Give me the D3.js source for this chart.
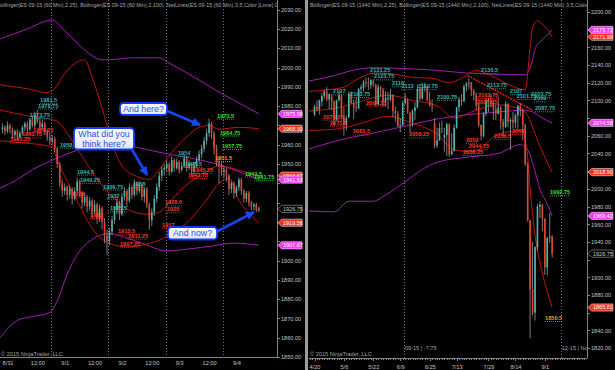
<!DOCTYPE html>
<meta charset="utf-8">
<style>
  body { margin: 0; background: #000; }
  svg { display: block; }
  text { font-family: "Liberation Sans", Arial, sans-serif; }
  .axis path, .axis line { stroke: #858585; shape-rendering: crispEdges; }
  .axis text { fill: #c4c4c4; font-size: 5.6px; }
</style>
<svg width="615" height="370"></svg>
<script src="https://d3js.org/d3.v7.min.js"></script>
<script>
  // ---- 60 min panel (ES 09-15), bar 0 = first bar of the 9/1 session
  var hourlyFirst = -20;
  var hourlyBars = [ // open, high, low, close
    [1968, 1971, 1966, 1969], [1969, 1970, 1965, 1967], [1967, 1972, 1966, 1970], [1970, 1971, 1966, 1968],
    [1968, 1969, 1963, 1965], [1965, 1968, 1964, 1967], [1967, 1968, 1962, 1964], [1964, 1967, 1963, 1966],
    [1966, 1970, 1965, 1969], [1969, 1972, 1967, 1971], [1971, 1972, 1966, 1968], [1968, 1974, 1967, 1973],
    [1973, 1975, 1969, 1970], [1970, 1977, 1968, 1975], [1975, 1978, 1971, 1972], [1972, 1974, 1967, 1969],
    [1969, 1973, 1968, 1971], [1971, 1972, 1965, 1967], [1967, 1968, 1962, 1964], [1964, 1966, 1960, 1962],
    [1962, 1965, 1960, 1963], [1963, 1964, 1956, 1958], [1958, 1959, 1948, 1950], [1950, 1951, 1938, 1940],
    [1940, 1942, 1933, 1936], [1936, 1940, 1934, 1938], [1938, 1939, 1931, 1934], [1934, 1939, 1932, 1937],
    [1937, 1938, 1929, 1932], [1932, 1938, 1931, 1936], [1936, 1943, 1935, 1941], [1941, 1942, 1933, 1935],
    [1935, 1936, 1927, 1930], [1930, 1935, 1928, 1933], [1933, 1934, 1925, 1928], [1928, 1933, 1926, 1931],
    [1931, 1932, 1922, 1925], [1925, 1931, 1924, 1929], [1929, 1930, 1919, 1922], [1922, 1929, 1920, 1927],
    [1927, 1928, 1916, 1920], [1920, 1922, 1909, 1913], [1913, 1916, 1903, 1910],
    [1910, 1917, 1908, 1915], [1915, 1923, 1913, 1921], [1921, 1928, 1919, 1926], [1926, 1932, 1924, 1930],
    [1930, 1931, 1921, 1924], [1924, 1935, 1923, 1933], [1933, 1938, 1931, 1936], [1936, 1937, 1928, 1931],
    [1931, 1940, 1930, 1938], [1938, 1939, 1932, 1934], [1934, 1942, 1933, 1940], [1940, 1941, 1934, 1936],
    [1936, 1941, 1935, 1939], [1939, 1940, 1931, 1933], [1933, 1938, 1930, 1937], [1937, 1938, 1927, 1929],
    [1929, 1930, 1916, 1921], [1921, 1927, 1918, 1925], [1925, 1934, 1923, 1932], [1932, 1940, 1930, 1938],
    [1938, 1946, 1936, 1944], [1944, 1949, 1941, 1947], [1947, 1950, 1944, 1948],
    [1948, 1952, 1946, 1950], [1950, 1951, 1944, 1946], [1946, 1954, 1945, 1952], [1952, 1953, 1946, 1948],
    [1948, 1953, 1947, 1951], [1951, 1952, 1945, 1947], [1947, 1951, 1946, 1949], [1949, 1955, 1948, 1953],
    [1953, 1954, 1946, 1948], [1948, 1952, 1947, 1950], [1950, 1951, 1944, 1946], [1946, 1951, 1945, 1949],
    [1949, 1954, 1948, 1952], [1952, 1957, 1951, 1955], [1955, 1960, 1953, 1958], [1958, 1964, 1956, 1962],
    [1962, 1968, 1960, 1966], [1966, 1973.5, 1964, 1971], [1971, 1972, 1963, 1966], [1966, 1967, 1955, 1958],
    [1958, 1960, 1949, 1951], [1951, 1954, 1940, 1949], [1949, 1951, 1944, 1946],
    [1946, 1949, 1943, 1947], [1947, 1948, 1941, 1944], [1944, 1945, 1934, 1937], [1937, 1941, 1935, 1940],
    [1940, 1941, 1932, 1935], [1935, 1939, 1933, 1938], [1938, 1943, 1936, 1942], [1942, 1943, 1934, 1936],
    [1936, 1937, 1930, 1932], [1932, 1936, 1930, 1935], [1935, 1936, 1928, 1930], [1930, 1931, 1926, 1928],
    [1928, 1930, 1926, 1929], [1929, 1930, 1925, 1926], [1926, 1928, 1925, 1926.75]
  ];
  var hourlyTicks = [[-18, "8/31"], [-6, "12:00"], [5, "9/1"], [17, "12:00"], [28, "9/2"],
    [40, "12:00"], [51, "9/3"], [63, "12:00"], [74, "9/4"]];
  var hourlySessionBreaks = [-0.5, 22.5, 45.5, 68.5];

  var hourlyBB25Upper = [[-21, 1991], [-10, 1989], [-2, 1987], [1, 1989], [4, 1995], [8, 2001], [13, 2004],
    [16, 1995], [20, 1979], [24, 1961], [28, 1949], [34, 1943.5], [39, 1942], [43, 1947], [48, 1956],
    [54, 1964], [59, 1969], [63, 1970], [67, 1968], [75, 1969], [83, 1968.3]];
  var hourlyBB25Mid = [[-21, 1978], [-10, 1975], [0, 1973], [3, 1971], [6, 1966], [10, 1958], [15, 1948],
    [20, 1939], [25, 1932], [31, 1926], [38, 1924], [43, 1925], [47, 1930], [52, 1937], [57, 1942],
    [62, 1946], [67, 1949], [72, 1948], [77, 1946], [83, 1944]];
  var hourlyBB25Lower = [[-21, 1962], [-12, 1961], [0, 1958.8], [2, 1952], [6, 1941], [10, 1931], [14, 1921],
    [19, 1912], [23, 1909], [30, 1907], [36, 1908], [43, 1910.5], [48, 1914], [54, 1919.4], [58, 1925],
    [62, 1931.3], [67, 1940], [71, 1942.7], [75, 1931.3], [79, 1924.6], [83, 1919.6]];
  var hourlyBB100Upper = [[-21, 2014.8], [-10, 2020], [0, 2024.6], [5, 2019], [10, 2012.7], [15, 2007],
    [20, 2004], [26, 2004.3], [31, 2005], [38, 2005], [43, 2005], [47, 2002.3], [53, 1998], [59, 1993.5],
    [66, 1988], [73, 1983], [78, 1979.5], [83, 1976]];
  var hourlyBB100Mid = [[-21, 1937.5], [-14, 1942], [-8, 1947], [0, 1952], [10, 1957], [20, 1959.5],
    [29, 1959.5], [38, 1957.5], [47, 1955], [56, 1953], [66, 1950], [75, 1946], [83, 1941.9]];
  var hourlyBB100Lower = [[-21, 1860], [-14, 1869], [-8, 1871], [-1, 1873], [2, 1879], [6, 1893],
    [10, 1903], [15, 1910], [23, 1914], [29, 1912], [36, 1909], [46, 1905], [55, 1906], [64, 1907.5],
    [73, 1909], [83, 1907.9]];

  // NetLines levels: value, bar where the text starts, kind
  var hourlyNetLabels = [
    [1981.5, -4.9, "res"], [1978.75, -5.7, "res"], [1973.75, -9, "res"], [1958.5, 3.1, "res"],
    [1944.5, 9.9, "res"], [1940.25, 11.1, "res"], [1936.75, 20.4, "res"], [1932, 22, "res"],
    [1925.5, 23.2, "res"], [1938, 32.4, "res"], [1954, 50.5, "res"], [1948.5, 53.3, "res"],
    [1963.75, -12.2, "sup"], [1966.25, -7.7, "sup"], [1961.25, -17, "sup"], [1933, 7.9, "sup"],
    [1922, 15.2, "sup"], [1913.5, 26.4, "sup"], [1911.25, 30.5, "sup"], [1907.25, 27.2, "sup"],
    [1945.25, 56.5, "sup"], [1942.75, 54.5, "sup"], [1928.5, 45.3, "sup"], [1925, 46.1, "sup"],
    [1917, 44.1, "sup"],
    [1973.5, 66.2, "tgt"], [1964.75, 67.4, "tgt"], [1957.75, 68.2, "tgt"], [1943.5, 77.4, "tgt"],
    [1941.75, 81.1, "tgt"], [1951.5, 65.4, "mid"]
  ];
  var hourlyTags = [[1975.99, "bb100"], [1968.30, "bb25"], [1943.97, "bb25"], [1941.93, "bb100"],
    [1926.75, "last"], [1919.56, "bb25"], [1907.87, "bb100"]];

  // ---- daily panel (ES 09-15), bar 0 = 4/20
  var dailyBars = [
    [2084, 2095, 2082, 2093], [2093, 2100, 2088, 2090], [2090, 2101, 2084, 2100], [2099, 2108, 2093, 2105],
    [2105, 2112, 2102, 2110], [2110, 2115, 2099, 2101], [2101, 2108, 2090, 2107], [2106, 2107, 2089, 2099],
    [2099, 2100, 2071, 2078], [2078, 2101, 2077, 2100], [2100, 2110, 2099, 2106], [2106, 2107, 2080, 2082],
    [2082, 2092, 2060, 2073], [2072, 2083, 2066, 2080], [2081, 2110, 2080, 2108], [2108, 2110, 2096, 2097],
    [2097, 2101, 2079, 2092], [2092, 2104, 2087, 2091], [2091, 2114, 2090, 2113], [2113, 2118, 2108, 2115],
    [2114, 2123, 2110, 2121], [2121, 2126, 2115, 2120], [2120, 2126, 2112, 2118], [2117, 2124, 2113, 2123],
    [2122, 2124, 2115, 2118], [2118, 2119, 2093, 2096], [2096, 2118, 2094, 2115], [2115, 2116, 2104, 2112],
    [2112, 2114, 2093, 2099], [2099, 2110, 2093, 2103], [2103, 2110, 2090, 2101], [2101, 2113, 2099, 2106],
    [2106, 2107, 2081, 2088], [2088, 2093, 2076, 2085], [2085, 2088, 2070, 2071], [2071, 2080, 2064, 2072],
    [2072, 2100, 2071, 2097], [2097, 2108, 2095, 2101], [2101, 2102, 2085, 2086], [2086, 2087, 2064, 2076],
    [2076, 2090, 2070, 2088], [2088, 2098, 2078, 2092], [2092, 2118, 2091, 2113], [2113, 2115, 2100, 2102],
    [2102, 2120, 2101, 2115], [2115, 2120, 2110, 2116], [2116, 2117, 2099, 2100], [2100, 2110, 2093, 2094],
    [2094, 2101, 2087, 2093], [2075, 2080, 2046, 2049], [2049, 2069, 2046, 2055], [2055, 2075, 2054, 2069],
    [2069, 2077, 2063, 2068], [2058, 2069, 2042, 2061], [2061, 2075, 2037, 2073], [2073, 2074, 2036, 2039],
    [2039, 2063, 2038, 2043], [2043, 2073, 2042, 2069], [2069, 2093, 2068, 2092], [2092, 2104, 2087, 2101],
    [2101, 2107, 2094, 2099], [2099, 2118, 2098, 2116], [2116, 2121, 2110, 2119], [2119, 2125, 2113, 2120],
    [2120, 2121, 2105, 2111], [2111, 2113, 2100, 2106], [2106, 2109, 2089, 2094], [2094, 2098, 2070, 2072],
    [2072, 2073, 2055, 2060], [2060, 2087, 2058, 2085], [2085, 2103, 2082, 2100], [2100, 2103, 2087, 2100],
    [2100, 2107, 2092, 2096], [2096, 2098, 2078, 2090], [2090, 2094, 2078, 2085], [2085, 2104, 2084, 2092],
    [2092, 2094, 2067, 2076], [2076, 2079, 2059, 2070], [2070, 2099, 2069, 2096], [2096, 2097, 2070, 2076],
    [2076, 2080, 2044, 2078], [2078, 2087, 2068, 2075], [2075, 2085, 2069, 2083], [2083, 2095, 2068, 2094],
    [2094, 2097, 2082, 2089], [2089, 2091, 2055, 2072], [2072, 2074, 2026, 2028], [2028, 2030, 1963, 1964],
    [1964, 1965, 1831, 1886], [1886, 1940, 1857, 1860], [1860, 1935, 1851, 1934], [1934, 1983, 1930, 1980],
    [1980, 1986, 1967, 1982], [1982, 1983, 1952, 1966], [1966, 1967, 1903, 1911], [1911, 1945, 1902, 1945],
    [1945, 1973, 1939, 1946], [1946, 1948, 1922, 1926.75]
  ];
  var dailyTicks = [[0, "4/20"], [12, "5/6"], [24, "5/22"], [35, "6/9"], [47, "6/25"], [58, "7/13"],
    [71, "7/29"], [82, "8/14"], [94, "9/1"]];
  var dailyRollovers = [[36.5, "09-15 | -7.75"], [100.5, "12-15 | No"]];

  var dailyBB25Upper = [[-2.3, 2110], [5, 2112], [12, 2115], [18, 2125], [25, 2131], [32, 2130], [40, 2126],
    [48, 2125], [55, 2120], [60, 2125], [66, 2134], [72, 2128], [80, 2117], [86, 2112], [87, 2130],
    [88, 2160], [89, 2182], [91, 2190], [93, 2186], [95, 2181], [97, 2172]];
  var dailyBB25Mid = [[-2.3, 2088], [10, 2092], [20, 2100], [30, 2106], [40, 2100], [50, 2094], [57, 2080],
    [65, 2088], [75, 2095], [85, 2089], [87, 2083], [89, 2070], [91, 2055], [94, 2036], [97, 2018.9]];
  var dailyBB25Lower = [[-2.3, 2066], [10, 2068], [20, 2075], [30, 2082], [40, 2074], [50, 2062], [57, 2044],
    [65, 2042], [75, 2062], [85, 2066], [86, 2056], [87, 2036], [88, 2000], [90, 1948], [93, 1905],
    [97, 1865.8]];
  var dailyBB100Upper = [[-2.3, 2122], [8, 2128], [14, 2133], [24, 2137], [37, 2136], [50, 2134], [62, 2131],
    [72, 2130], [86, 2129], [88, 2137], [89, 2146], [90, 2158], [92, 2166], [95, 2174], [97, 2179.7]];
  var dailyBB100Mid = [[-2.3, 2045], [10, 2055], [24, 2063], [37, 2071], [50, 2079], [63, 2084], [75, 2087],
    [86, 2089], [89, 2087], [93, 2080], [97, 2074.6]];
  var dailyBB100Lower = [[-2.3, 1975], [8, 1974], [14, 1986], [24, 1986], [29, 1993], [37, 2008], [44, 2022],
    [50, 2030], [63, 2036], [75, 2040], [84, 2050], [86, 2048], [88, 2038], [90, 2020], [92, 2000],
    [95, 1983], [97, 1969.4]];
  var dailyTrend = [[62.6, 2128], [89, 2089]];

  var dailyNetLabels = [
    [2131.25, 22.7, "res"], [2123.75, 24.3, "res"], [2107, 7.6, "res"], [2103.75, 14.5, "res"],
    [2116, 31.6, "res"], [2113, 35.5, "res"], [2112.75, 42.2, "res"], [2100.75, 50, "res"],
    [2130.5, 68, "res"], [2113.75, 70.4, "res"], [2107, 79.8, "res"], [2101.75, 82.5, "res"],
    [2103.75, 88.4, "res"], [2099, 89.6, "res"], [2087.75, 90, "res"],
    [2078.25, 3.5, "sup"], [2071.5, 6.3, "sup"], [2094.25, 21, "sup"], [2061.5, 15.7, "sup"],
    [2058.25, 38.6, "sup"], [2052, 61.8, "sup"], [2044.75, 63, "sup"], [2038.25, 60.6, "sup"],
    [2056.5, 73.3, "sup"], [2062, 80.6, "sup"], [2102.75, 66.7, "sup"], [2095.25, 66.3, "sup"],
    [1992.75, 96.1, "tgt"], [1850.5, 94.1, "mid"]
  ];
  var dailyTags = [[2179.73, "bb100"], [2171.99, "bb25"], [2074.58, "bb100"], [2018.90, "bb25"],
    [1969.42, "bb100"], [1926.75, "last"], [1865.81, "bb25"]];

  var calloutText = [["And here?"], ["What did you", "think here?"], ["And now?"]];
  var calloutTips = [[59.4, 1970.2], [38.1, 1944.3], [81.1, 1925.1]];

  // ---------------------------------------------------------------
  var svg = d3.select("svg");
  var upColor = "#4fb5ac", downColor = "#e2452c", wickColor = "#b0b0b0";
  var netColor = { res: "#38b4ad", sup: "#ff3a28", tgt: "#2ee02e", mid: "#f29a2a" };
  var tagColor = { bb100: "#f23cf2", bb25: "#f5321e", last: "#000" };
  var fmt = d3.format(".2f");

  svg.append("rect").attr("width", 615).attr("height", 370).attr("fill", "#000");
  var defs = svg.append("defs");

  function drawPanel(p) {
    var x = d3.scaleLinear().domain(p.xDomain).range([p.left, p.right]);
    var y = d3.scaleLinear().domain(p.yDomain).range(p.yRange);
    var g = svg.append("g");

    defs.append("clipPath").attr("id", "clip" + p.name).append("rect")
      .attr("x", p.left).attr("y", 0).attr("width", p.right - p.left).attr("height", p.bottom);
    var plot = g.append("g").attr("clip-path", "url(#clip" + p.name + ")");

    // session / rollover lines
    plot.selectAll("line.brk").data(p.breaks).enter().append("line")
      .attr("x1", function(d) { return Math.round(x(d)) + 0.5; })
      .attr("x2", function(d) { return Math.round(x(d)) + 0.5; })
      .attr("y1", 0).attr("y2", p.bottom)
      .attr("stroke", "#6f7884").attr("stroke-dasharray", "1,2");

    // bands
    var line = d3.line().curve(d3.curveMonotoneX)
      .x(function(d) { return x(d[0]); }).y(function(d) { return y(d[1]); });
    p.bb100.forEach(function(s) {
      plot.append("path").attr("d", line(s)).attr("fill", "none").attr("stroke", "#a01fb0").attr("stroke-width", 1);
    });
    p.bb25.forEach(function(s) {
      plot.append("path").attr("d", line(s)).attr("fill", "none").attr("stroke", "#c0150f").attr("stroke-width", 1);
    });
    if (p.trend) {
      plot.append("path").attr("d", d3.line().x(function(d) { return x(d[0]); }).y(function(d) { return y(d[1]); })(p.trend))
        .attr("stroke", "#ff2a1a").attr("stroke-width", 1.2).attr("stroke-dasharray", "2,1").attr("fill", "none");
    }

    // candles
    var bars = p.bars.map(function(b, k) { return { i: p.first + k, o: b[0], h: b[1], l: b[2], c: b[3] }; });
    var cg = plot.selectAll("g.bar").data(bars).enter().append("g");
    cg.append("line")
      .attr("x1", function(d) { return x(d.i); }).attr("x2", function(d) { return x(d.i); })
      .attr("y1", function(d) { return y(d.h); }).attr("y2", function(d) { return y(d.l); })
      .attr("stroke", wickColor).attr("stroke-width", 0.7);
    cg.append("rect")
      .attr("x", function(d) { return x(d.i) - 0.8; }).attr("width", 1.6)
      .attr("y", function(d) { return y(Math.max(d.o, d.c)); })
      .attr("height", function(d) { return Math.max(0.7, Math.abs(y(d.o) - y(d.c))); })
      .attr("fill", function(d) { return d.c >= d.o ? upColor : downColor; });

    // NetLines labels with dotted underline
    var lg = plot.selectAll("g.net").data(p.labels).enter().append("g");
    lg.append("text")
      .attr("x", function(d) { return x(d[1]); }).attr("y", function(d) { return y(d[0]) - 1; })
      .attr("fill", function(d) { return netColor[d[2]]; })
      .attr("font-size", 5.6).attr("font-weight", "bold")
      .text(function(d) { return String(d[0]); });
    lg.append("line")
      .attr("x1", function(d) { return x(d[1]); })
      .attr("x2", function(d) { return x(d[1]) + this.parentNode.firstChild.getComputedTextLength(); })
      .attr("y1", function(d) { return y(d[0]) + 0.5; }).attr("y2", function(d) { return y(d[0]) + 0.5; })
      .attr("stroke", function(d) { return netColor[d[2]]; }).attr("stroke-width", 0.8)
      .attr("stroke-dasharray", "1,1");

    // title + copyright
    plot.append("text").attr("x", p.titleX).attr("y", 6.5).attr("fill", "#a8a8a8")
      .attr("font-size", 5.4).text(p.title);
    plot.append("text").attr("x", p.left + 1).attr("y", 356).attr("fill", "#a0a0a0")
      .attr("font-size", 5.6).text("\u00a9 2015 NinjaTrader, LLC");
    if (p.rollovers) {
      plot.selectAll("text.roll").data(p.rollovers).enter().append("text")
        .attr("x", function(d) { return x(d[0]) + 1; }).attr("y", 350)
        .attr("fill", "#a8a8a8").attr("font-size", 5.6).text(function(d) { return d[1]; });
    }

    // axes
    var ya = g.append("g").attr("class", "axis").attr("transform", "translate(" + p.right + ",0)")
      .call(d3.axisRight(y).tickValues(p.yTicks).tickFormat(fmt).tickSize(3).tickSizeOuter(0).tickPadding(1));
    ya.select(".domain").remove();
    // tick labels that sit under a price tag are covered, as on the platform
    ya.selectAll(".tick text").style("display", function(v) {
      return p.tags.some(function(t) { return Math.abs(y(t[0]) - y(v)) < 7.4; }) ? "none" : null;
    });
    g.append("line").attr("x1", p.right + 0.5).attr("x2", p.right + 0.5).attr("y1", 0).attr("y2", p.bottom)
      .attr("stroke", "#858585");
    var xa = g.append("g").attr("class", "axis").attr("transform", "translate(0," + p.bottom + ")")
      .call(d3.axisBottom(x).tickValues(p.xTicks.map(function(d) { return d[0]; }))
        .tickFormat(function(d, k) { return p.xTicks[k][1]; }).tickSize(p.minor ? 3 : 0).tickPadding(4));
    xa.select(".domain").attr("d", "M" + p.left + ",0.5H" + p.right);
    if (p.minor) {
      g.append("g").attr("class", "axis").attr("transform", "translate(0," + p.bottom + ")")
        .call(d3.axisBottom(x).tickValues(p.minor).tickFormat("").tickSize(2).tickSizeOuter(0))
        .select(".domain").remove();
    }

    // price tags on the axis
    var tg = g.selectAll("g.tag").data(p.tags).enter().append("g")
      .attr("transform", function(d) { return "translate(" + (p.right + 1) + "," + y(d[0]) + ")"; });
    tg.append("path").attr("d", "M0,0L3.5,-3.6H" + p.tagWidth + "V3.6H3.5Z")
      .attr("fill", function(d) { return tagColor[d[1]]; })
      .attr("stroke", function(d) { return d[1] === "last" ? "#c8c8c8" : "#ffffff"; })
      .attr("stroke-width", 0.5);
    tg.append("text").attr("x", 5).attr("y", 2).attr("font-size", 5.5)
      .attr("fill", function(d) { return d[1] === "last" ? "#d0d0d0" : "#ffffff"; })
      .text(function(d) { return fmt(d[0]); });

    return { x: x, y: y };
  }

  var left = drawPanel({
    name: "h", left: 0, right: 277, bottom: 357, xDomain: [-21, 90.3], yDomain: [1850, 2030], yRange: [357, 9.6],
    bars: hourlyBars, first: hourlyFirst, breaks: hourlySessionBreaks,
    bb25: [hourlyBB25Upper, hourlyBB25Mid, hourlyBB25Lower], bb100: [hourlyBB100Upper, hourlyBB100Mid, hourlyBB100Lower],
    labels: hourlyNetLabels, tags: hourlyTags, tagWidth: 24, titleX: -3,
    yTicks: d3.range(1850, 2031, 10), xTicks: hourlyTicks,
    title: "Bollinger(ES 09-15 (60 Min),2,25), Bollinger(ES 09-15 (60 Min),2,100), NetLines(ES 09-15 (60 Min),3,5,Color [Lime],Color [Red],Color [DarkCyan])"
  });

  drawPanel({
    name: "d", left: 309, right: 587, bottom: 358, xDomain: [-2.245, 111.22], yDomain: [1820, 2200], yRange: [348, 12],
    bars: dailyBars, first: 0, breaks: dailyRollovers.map(function(d) { return d[0]; }), rollovers: dailyRollovers,
    bb25: [dailyBB25Upper, dailyBB25Mid, dailyBB25Lower], bb100: [dailyBB100Upper, dailyBB100Mid, dailyBB100Lower],
    trend: dailyTrend, labels: dailyNetLabels, tags: dailyTags, tagWidth: 25, titleX: 310,
    yTicks: d3.range(1820, 2201, 20), xTicks: dailyTicks, minor: d3.range(-2, 111),
    title: "Bollinger(ES 09-15 (1440 Min),2,25), Bollinger(ES 09-15 (1440 Min),2,100), NetLines(ES 09-15 (1440 Min),3,5,Color [Lime],Color [Red])"
  });

  // panel divider
  svg.append("rect").attr("x", 305).attr("y", 0).attr("width", 3).attr("height", 370).attr("fill", "#9c9c9c");

  // callouts
  var grad = defs.append("linearGradient").attr("id", "cg").attr("x1", 0).attr("y1", 0).attr("x2", 0).attr("y2", 1);
  grad.append("stop").attr("offset", 0).attr("stop-color", "#ffffff");
  grad.append("stop").attr("offset", 1).attr("stop-color", "#dce6ff");
  defs.append("marker").attr("id", "head").attr("viewBox", "0 -5 10 10").attr("refX", 9).attr("refY", 0)
    .attr("markerUnits", "userSpaceOnUse").attr("markerWidth", 9).attr("markerHeight", 9).attr("orient", "auto")
    .append("path").attr("d", "M0,-5L10,0L0,5Z").attr("fill", "#1646f0");

  var boxes = [{ x: 120, y: 103, w: 47, h: 12, fx: 165, fy: 110 },
    { x: 74, y: 128, w: 60, h: 21.5, fx: 131, fy: 148 },
    { x: 168, y: 227, w: 49, h: 12.5, fx: 216, fy: 232 }];
  var cl = svg.append("g");
  boxes.forEach(function(b, k) {
    var tip = calloutTips[k];
    cl.append("line").attr("x1", b.fx).attr("y1", b.fy).attr("x2", left.x(tip[0])).attr("y2", left.y(tip[1]))
      .attr("stroke", "#1646f0").attr("stroke-width", 2.6).attr("marker-end", "url(#head)");
    cl.append("rect").attr("x", b.x).attr("y", b.y).attr("width", b.w).attr("height", b.h).attr("rx", 3.5)
      .attr("fill", "url(#cg)").attr("stroke", "#1437ff").attr("stroke-width", 1.8);
    calloutText[k].forEach(function(t, j) {
      cl.append("text").attr("x", b.x + b.w / 2).attr("y", b.y + 9 + j * 9.5).attr("text-anchor", "middle")
        .attr("font-size", 8.8).attr("fill", "#2d4fd8").text(t);
    });
  });
</script>
